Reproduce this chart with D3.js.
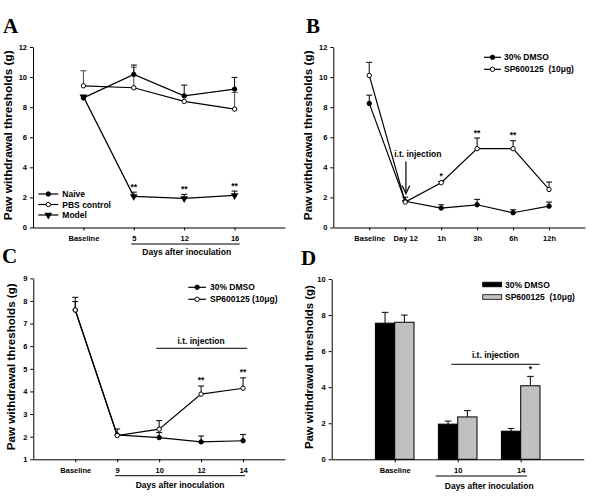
<!DOCTYPE html>
<html><head><meta charset="utf-8">
<script src="https://cdn.jsdelivr.net/npm/d3@7"></script>
<style>
body{margin:0;background:#fff}
text{font-family:"Liberation Sans",Arial,sans-serif;font-weight:bold;fill:#000}
</style>
</head><body><svg id="c" width="600" height="500"></svg>
<script>
// ---------- Panel A ----------
const catsA = ["Baseline", "5", "12", "16"];
const naiveA = [8.62, 10.18, 8.75, 9.2];
const naiveErrA = [0, 0.62, 0.72, 0.78];
const pbsA = [9.42, 9.29, 8.38, 7.87];
const pbsErrA = [1.0, 1.36, 0, 1.11];
const modelA = [8.7, 2.07, 1.93, 2.13];
const modelErrA = [0, 0.28, 0.27, 0.29];
const sigA = ["", "**", "**", "**"];
const yTicksA = [0, 2, 4, 6, 8, 10, 12];

// ---------- Panel B ----------
const catsB = ["Baseline", "Day 12", "1h", "3h", "6h", "12h"];
const dmsoB = [8.25, 1.74, 1.29, 1.51, 0.98, 1.42];
const dmsoErrB = [0.55, 0.28, 0.22, 0.36, 0.2, 0.27];
const spB = [10.11, 1.69, 2.98, 5.24, 5.24, 2.53];
const spErrB = [0.87, 0.1, 0.08, 0.71, 0.53, 0.49];
const sigB = ["", "", "*", "**", "**", ""];
const yTicksB = [0, 2, 4, 6, 8, 10, 12];

// ---------- Panel C ----------
const catsC = ["Baseline", "9", "10", "12", "14"];
const dmsoC = [7.6, 2.08, 1.96, 1.77, 1.82];
const dmsoErrC = [0.37, 0.26, 0.22, 0.26, 0.28];
const spC = [7.6, 2.05, 2.33, 3.88, 4.14];
const spErrC = [0.56, 0, 0.38, 0.36, 0.46];
const sigC = ["", "", "", "**", "**"];
const yTicksC = [1, 2, 3, 4, 5, 6, 7, 8, 9];

// ---------- Panel D ----------
const catsD = ["Baseline", "10", "14"];
const dmsoD = [7.55, 1.95, 1.56];
const dmsoErrD = [0.6, 0.17, 0.15];
const spD = [7.6, 2.35, 4.08];
const spErrD = [0.4, 0.35, 0.52];
const sigD = ["", "", "*"];
const yTicksD = [0, 2, 4, 6, 8, 10];

const svg = d3.select("#c");
const FONT = '"Liberation Sans",Arial,sans-serif';

function makeAxes(g, cats, x, y, yTicks, yLabelSize, yLabelX, tickFs) {
  const x0 = x.range()[0];
  const yBase = y.range()[0];
  const ya = g.append("g").attr("transform", `translate(${x0},0)`)
    .call(d3.axisLeft(y).tickValues(yTicks).tickSize(3).tickSizeOuter(0).tickPadding(3).tickFormat(d3.format("d")));
  const xa = g.append("g").attr("transform", `translate(0,${yBase})`)
    .call(d3.axisBottom(x).tickValues(d3.range(1, cats.length + 1)).tickSize(3).tickSizeOuter(0).tickPadding(5)
      .tickFormat((d, i) => cats[i]));
  [ya, xa].forEach(a => {
    a.attr("font-family", FONT).attr("font-size", tickFs).attr("font-weight", "bold");
    a.selectAll("path,line").attr("stroke", "#000").attr("stroke-width", 1);
  });
  const yr = y.range();
  g.append("text").attr("transform", `translate(${yLabelX},${(yr[0] + yr[1]) / 2 - 2}) rotate(-90)`)
    .attr("text-anchor", "middle").attr("font-size", yLabelSize)
    .text("Paw withdrawal thresholds (g)");
}

function marker(g, type, cx, cy) {
  if (type === "tri") {
    g.append("path").attr("d", d3.symbol(d3.symbolTriangle, 26)())
      .attr("transform", `translate(${cx},${cy}) rotate(180)`).attr("fill", "#000");
  } else {
    g.append("circle").attr("cx", cx).attr("cy", cy).attr("r", 2.2)
      .attr("fill", type === "open" ? "#fff" : "#000").attr("stroke", "#000").attr("stroke-width", 1);
  }
}

function linePanel(cfg) {
  const g = svg.append("g");
  const n = cfg.cats.length;
  const x = d3.scaleLinear().domain([0, n + 1]).range([cfg.x0, cfg.x1]);
  const y = d3.scaleLinear().domain(cfg.yDomain).range([cfg.yb, cfg.yt]);
  makeAxes(g, cfg.cats, x, y, cfg.yTicks, cfg.yLabelSize, cfg.yLabelX, 7.5);
  const line = d3.line().x((d, i) => x(i + 1)).y(d => y(d));
  cfg.series.forEach(s => {
    g.append("path").attr("d", line(s.vals)).attr("fill", "none").attr("stroke", "#000").attr("stroke-width", 1.2);
  });
  cfg.series.forEach(s => {
    s.vals.forEach((v, i) => {
      const e = s.errs[i];
      if (!e) return;
      const cx = x(i + 1), y1 = y(v), y2 = y(v + e);
      g.append("line").attr("x1", cx).attr("x2", cx).attr("y1", y1).attr("y2", y2).attr("stroke", s.errColor || "#000");
      g.append("line").attr("x1", cx - 3).attr("x2", cx + 3).attr("y1", y2).attr("y2", y2).attr("stroke", s.errColor || "#000");
    });
  });
  cfg.series.forEach(s => {
    s.vals.forEach((v, i) => marker(g, s.type, x(i + 1), y(v)));
  });
  const sigS = cfg.sigSeries;
  cfg.sig.forEach((t, i) => {
    if (!t) return;
    g.append("text").attr("x", x(i + 1)).attr("y", y(sigS.vals[i] + sigS.errs[i]) - 2.5)
      .attr("text-anchor", "middle").attr("font-size", 8.5).text(t);
  });
  return { g, x, y };
}

function legendLines(g, items, lx0, lx1, tx, ys) {
  items.forEach((it, i) => {
    g.append("line").attr("x1", lx0).attr("x2", lx1).attr("y1", ys[i]).attr("y2", ys[i]).attr("stroke", "#000").attr("stroke-width", 1.2);
    marker(g, it.type, (lx0 + lx1) / 2, ys[i]);
    g.append("text").attr("x", tx).attr("y", ys[i] + 3).attr("font-size", 8.5)
      .attr("xml:space", "preserve").style("white-space", "pre").text(it.label);
  });
}

function panelTitle(t, x, y) {
  svg.append("text").attr("x", x).attr("y", y).attr("font-size", 21)
    .style("font-family", '"Liberation Serif","Times New Roman",serif').text(t);
}

function daysAfter(g, x1, x2, yLine, cx, yText) {
  g.append("line").attr("x1", x1).attr("x2", x2).attr("y1", yLine).attr("y2", yLine).attr("stroke", "#000");
  g.append("text").attr("x", cx).attr("y", yText).attr("text-anchor", "middle").attr("font-size", 8.5).text("Days after inoculation");
}

// ---------- draw A ----------
const A = linePanel({
  cats: catsA, x0: 33, x1: 285, yb: 227.5, yt: 47, yDomain: [0, 12], yTicks: yTicksA,
  yLabelSize: 11.8, yLabelX: 12,
  series: [
    { vals: naiveA, errs: naiveErrA, type: "filled" },
    { vals: pbsA, errs: pbsErrA, type: "open", errColor: "#444" },
    { vals: modelA, errs: modelErrA, type: "tri" }
  ],
  sig: sigA, sigSeries: { vals: modelA, errs: modelErrA }
});
legendLines(A.g, [{ type: "filled", label: "Naive" }, { type: "open", label: "PBS control" }, { type: "tri", label: "Model" }],
  38.3, 58.3, 62.3, [194, 204.5, 215]);
daysAfter(A.g, A.x(1.95), A.x(4.1), 244, A.x(3.05), 255);
panelTitle("A", 3, 33);

// ---------- draw B ----------
const B = linePanel({
  cats: catsB, x0: 333.3, x1: 585, yb: 227.5, yt: 47, yDomain: [0, 12], yTicks: yTicksB,
  yLabelSize: 11.8, yLabelX: 312,
  series: [
    { vals: dmsoB, errs: dmsoErrB, type: "filled" },
    { vals: spB, errs: spErrB, type: "open" }
  ],
  sig: sigB, sigSeries: { vals: spB, errs: spErrB }
});
legendLines(B.g, [{ type: "filled", label: "30% DMSO" }, { type: "open", label: "SP600125  (10\u03bcg)" }],
  484, 501, 504, [57.3, 69.3]);
B.g.append("text").attr("x", B.x(2.35)).attr("y", 157).attr("text-anchor", "middle").attr("font-size", 8.5).text("i.t. injection");
const ax = B.x(2.02);
B.g.append("line").attr("x1", ax).attr("x2", ax).attr("y1", 161.5).attr("y2", 193.5).attr("stroke", "#000").attr("stroke-width", 1.2);
B.g.append("path").attr("d", `M${ax - 3.8},185.5 L${ax},193.5 L${ax + 3.8},185.5`).attr("fill", "none").attr("stroke", "#000").attr("stroke-width", 1.2);
panelTitle("B", 306, 33);

// ---------- draw C ----------
const C = linePanel({
  cats: catsC, x0: 33.3, x1: 285, yb: 459.3, yt: 278.3, yDomain: [1, 9], yTicks: yTicksC,
  yLabelSize: 11.6, yLabelX: 14.5,
  series: [
    { vals: dmsoC, errs: dmsoErrC, type: "filled" },
    { vals: spC, errs: spErrC, type: "open" }
  ],
  sig: sigC, sigSeries: { vals: spC, errs: spErrC }
});
legendLines(C.g, [{ type: "filled", label: "30% DMSO" }, { type: "open", label: "SP600125 (10\u03bcg)" }],
  188.3, 206, 210, [287.3, 299.3]);
C.g.append("line").attr("x1", C.x(2.93)).attr("x2", C.x(5.1)).attr("y1", 348.3).attr("y2", 348.3).attr("stroke", "#000");
C.g.append("text").attr("x", C.x(4.0)).attr("y", 344).attr("text-anchor", "middle").attr("font-size", 8.5).text("i.t. injection");
daysAfter(C.g, C.x(1.95), C.x(5.05), 475.7, C.x(3.5), 487.5);
panelTitle("C", 2, 263);

// ---------- draw D (bars) ----------
(function () {
  const g = svg.append("g");
  const x = d3.scaleLinear().domain([0, catsD.length + 1]).range([331.7, 583.7]);
  const y = d3.scaleLinear().domain([0, 10]).range([459.3, 279]);
  const bw = 19.3;
  const groups = [
    { vals: dmsoD, errs: dmsoErrD, fill: "#000", off: -1 },
    { vals: spD, errs: spErrD, fill: "#c0c0c0", off: 0 }
  ];
  groups.forEach(s => {
    s.vals.forEach((v, i) => {
      const bx = x(i + 1) + s.off * bw;
      g.append("rect").attr("x", bx).attr("y", y(v)).attr("width", bw).attr("height", y(0) - y(v))
        .attr("fill", s.fill).attr("stroke", "#000").attr("stroke-width", 1);
      const cx = bx + bw / 2, ye = y(v + s.errs[i]);
      g.append("line").attr("x1", cx).attr("x2", cx).attr("y1", y(v)).attr("y2", ye).attr("stroke", "#000");
      g.append("line").attr("x1", cx - 3.3).attr("x2", cx + 3.3).attr("y1", ye).attr("y2", ye).attr("stroke", "#000");
    });
  });
  makeAxes(g, catsD, x, y, yTicksD, 11.4, 312.5, 7.5);
  sigD.forEach((t, i) => {
    if (!t) return;
    g.append("text").attr("x", x(i + 1) + bw / 2).attr("y", y(spD[i] + spErrD[i]) - 4)
      .attr("text-anchor", "middle").attr("font-size", 8.5).text(t);
  });
  const leg = [{ fill: "#000", label: "30% DMSO" }, { fill: "#c0c0c0", label: "SP600125  (10\u03bcg)" }];
  [284.5, 297].forEach((yy, i) => {
    g.append("rect").attr("x", 482.7).attr("y", yy - 2.3).attr("width", 19).attr("height", 4.6)
      .attr("fill", leg[i].fill).attr("stroke", "#000").attr("stroke-width", 0.8);
    g.append("text").attr("x", 505).attr("y", yy + 3).attr("font-size", 8.5)
      .attr("xml:space", "preserve").style("white-space", "pre").text(leg[i].label);
  });
  g.append("line").attr("x1", x(1.9)).attr("x2", x(3.3)).attr("y1", 364.3).attr("y2", 364.3).attr("stroke", "#000");
  g.append("text").attr("x", x(2.6)).attr("y", 357.5).attr("text-anchor", "middle").attr("font-size", 8.5).text("i.t. injection");
  daysAfter(g, x(1.65), x(3.1), 476, x(2.5), 488.5);
})();
panelTitle("D", 301, 265);
</script>
</body></html>
